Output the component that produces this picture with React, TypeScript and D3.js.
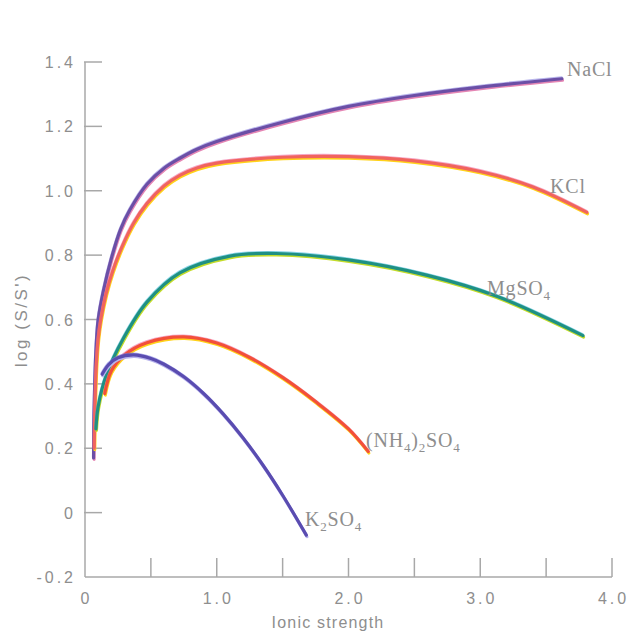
import React from "react";
import * as d3 from "d3";

const xTickValues = [0, 1, 2, 3, 4];
const xTickLabels = ["0", "1.0", "2.0", "3.0", "4.0"];
const xMinorTicks = [0.5, 1, 1.5, 2, 2.5, 3, 3.5, 4];
const yTickValues = [1.4, 1.2, 1.0, 0.8, 0.6, 0.4, 0.2, 0, -0.2];
const yTickLabels = ["1.4", "1.2", "1.0", "0.8", "0.6", "0.4", "0.2", "0", "-0.2"];

const naclX = [0.065, 0.068, 0.075, 0.085, 0.1, 0.14, 0.2, 0.27, 0.34, 0.47, 0.6, 0.72, 0.85, 1.0, 1.5, 2.0, 2.5, 3.0, 3.62];
const naclY = [0.17, 0.3, 0.42, 0.52, 0.6, 0.69, 0.79, 0.88, 0.94, 1.02, 1.07, 1.101, 1.129, 1.153, 1.213, 1.262, 1.296, 1.322, 1.348];

const kclX = [0.07, 0.075, 0.085, 0.1, 0.12, 0.16, 0.21, 0.28, 0.37, 0.47, 0.6, 0.72, 0.85, 1.0, 1.5, 2.0, 2.5, 3.0, 3.4, 3.81];
const kclY = [0.2, 0.32, 0.45, 0.54, 0.6, 0.68, 0.75, 0.825, 0.9, 0.96, 1.015, 1.048, 1.071, 1.086, 1.104, 1.106, 1.093, 1.06, 1.012, 0.933];

const mgso4X = [0.083, 0.1, 0.16, 0.29, 0.47, 0.72, 1.1, 1.45, 2.0, 2.6, 3.12, 3.78];
const mgso4Y = [0.26, 0.33, 0.425, 0.54, 0.654, 0.745, 0.797, 0.805, 0.785, 0.737, 0.673, 0.55];

const nh4X = [0.15, 0.2, 0.3, 0.47, 0.75, 1.0, 1.25, 1.5, 1.75, 2.0, 2.15];
const nh4Y = [0.37, 0.44, 0.49, 0.528, 0.546, 0.527, 0.482, 0.42, 0.345, 0.26, 0.19];

const k2so4X = [0.13, 0.18, 0.25, 0.37, 0.5, 0.6, 0.75, 0.9, 1.05, 1.2, 1.35, 1.5, 1.68];
const k2so4Y = [0.43, 0.46, 0.481, 0.49, 0.479, 0.461, 0.422, 0.37, 0.306, 0.232, 0.148, 0.054, -0.07];

const seriesNames = ["NaCl", "KCl", "MgSO4", "(NH4)2SO4", "K2SO4"];
const seriesX = [naclX, kclX, mgso4X, nh4X, k2so4X];
const seriesY = [naclY, kclY, mgso4Y, nh4Y, k2so4Y];
const mainColors = ["#6b4fa6", "#f0645e", "#1f9083", "#f2503a", "#5a4cb0"];
const fringeColors = ["#e486b4", "#ffd21a", "#c4dc2a", "#ffd21a", "#b7b3ec"];
const topFringe = ["#8a86e0", "#f06aa0", "#3ab8d8", "#f06aa0", "#7a78e0"];

export default function App() {
  const W = 634, H = 638;
  const x = d3.scaleLinear().domain([0, 4]).range([85, 612]);
  const y = d3.scaleLinear().domain([-0.2, 1.4]).range([577, 62]);
  const line = d3
    .line<[number, number]>()
    .x((d) => x(d[0]))
    .y((d) => y(d[1]))
    .curve(d3.curveCatmullRom.alpha(0.5));

  const axisColor = "#a8a8a8";
  const textColor = "#8e8e8e";
  const sans = "Liberation Sans, Arial, sans-serif";
  const serif = "Liberation Serif, Times New Roman, serif";

  const paths = seriesX.map((xs, i) => line(xs.map((v, j) => [v, seriesY[i][j]] as [number, number])) || "");

  const labelStyle = { fontFamily: serif, fontSize: 20, fill: textColor, letterSpacing: 0.8 } as const;
  const subSize = 13;

  return (
    <svg width={W} height={H} style={{ position: "absolute", left: 0, top: 0, background: "#fff" }}>
      {/* axes */}
      <line x1={x(0)} x2={x(0)} y1={y(1.4)} y2={y(-0.2)} stroke={axisColor} strokeWidth={1.5} />
      <line x1={x(0)} x2={x(4)} y1={y(-0.2)} y2={y(-0.2)} stroke={axisColor} strokeWidth={1.5} />
      {yTickValues.map((v, i) => (
        <g key={"yt" + i}>
          {v > -0.2 && (
            <line x1={x(0) - 1} x2={x(0) + 17} y1={y(v)} y2={y(v)} stroke={axisColor} strokeWidth={1.5} />
          )}
          <text
            x={76}
            y={y(v) + 6}
            textAnchor="end"
            fontFamily={sans}
            fontSize={16}
            letterSpacing={3}
            fill={textColor}
          >
            {yTickLabels[i]}
          </text>
        </g>
      ))}
      {xMinorTicks.map((v, i) => (
        <line key={"xm" + i} x1={x(v)} x2={x(v)} y1={y(-0.2)} y2={y(-0.2) - 19} stroke={axisColor} strokeWidth={1.5} />
      ))}
      {xTickValues.map((v, i) => (
        <text
          key={"xt" + i}
          x={x(v) + 1.5}
          y={604}
          textAnchor="middle"
          fontFamily={sans}
          fontSize={16}
          letterSpacing={3}
          fill={textColor}
        >
          {xTickLabels[i]}
        </text>
      ))}
      <text x={328} y={628} textAnchor="middle" fontFamily={sans} fontSize={16} letterSpacing={1.2} fill={textColor}>
        Ionic strength
      </text>
      <text
        transform={`translate(27,${320}) rotate(-90)`}
        textAnchor="middle"
        fontFamily={sans}
        fontSize={17}
        letterSpacing={2.5}
        fill={textColor}
      >
        log (S/S')
      </text>

      {/* curves with print-like colour fringes */}
      {paths.map((p, i) => (
        <g key={"s" + seriesNames[i]} fill="none" strokeLinecap="round" strokeLinejoin="round">
          <path d={p} stroke={fringeColors[i]} strokeWidth={3} transform="translate(0.6,1.6)" />
          <path d={p} stroke={topFringe[i]} strokeWidth={2.5} transform="translate(-0.4,-1.2)" opacity={0.6} />
          <path d={p} stroke={mainColors[i]} strokeWidth={3.2} />
        </g>
      ))}

      {/* curve labels */}
      <text x={567} y={76} {...labelStyle}>NaCl</text>
      <text x={550} y={193} {...labelStyle}>KCl</text>
      <text x={487} y={295} {...labelStyle}>
        MgSO<tspan fontSize={subSize} dy={5}>4</tspan>
      </text>
      <text x={366} y={447} {...labelStyle}>
        (NH<tspan fontSize={subSize} dy={5}>4</tspan>
        <tspan dy={-5}>)</tspan>
        <tspan fontSize={subSize} dy={5}>2</tspan>
        <tspan dy={-5}>SO</tspan>
        <tspan fontSize={subSize} dy={5}>4</tspan>
      </text>
      <text x={305} y={526} {...labelStyle}>
        K<tspan fontSize={subSize} dy={5}>2</tspan>
        <tspan dy={-5}>SO</tspan>
        <tspan fontSize={subSize} dy={5}>4</tspan>
      </text>
    </svg>
  );
}
